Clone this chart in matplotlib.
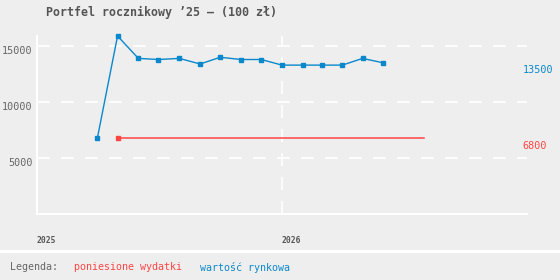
import numpy as np
import pandas as pd
import matplotlib
matplotlib.use("Agg")
import matplotlib.pyplot as plt
import matplotlib.dates as mdates
import matplotlib.transforms as mtransforms
from matplotlib.lines import Line2D

# data
value_dates = pd.date_range("2025-04-01", "2026-06-01", freq="MS")
market_value = [6800, 15900, 13900, 13800, 13900, 13400, 14000, 13800, 13800,
                13300, 13300, 13300, 13300, 13900, 13500]
cost_dates = pd.date_range("2025-05-01", "2026-08-01", freq="MS")
costs = [6800] * len(cost_dates)
y_ticks = [5000, 10000, 15000]
x_ticks = pd.to_datetime(["2025-01-01", "2026-01-01"])
x_tick_labels = ["2025", "2026"]

title = "Portfel rocznikowy ’25 – (100 zł)"
legend_label = "Legenda:"
cost_label = "poniesione wydatki"
value_label = "wartość rynkowa"

bg = "#eeeeee"
blue = "#0a88cc"
red = "#ff4444"
gray = "#666666"
mono = "DejaVu Sans Mono"

fig = plt.figure(figsize=(5.6, 2.8), dpi=100, facecolor=bg)
ax = fig.add_axes([37 / 560, 66 / 280, 490 / 560, 178 / 280], facecolor=bg)

ax.plot(value_dates, market_value, color=blue, lw=1.0, marker="s", ms=2.3,
        clip_on=False, zorder=3)
ax.plot(cost_dates, costs, color=red, lw=1.1, marker="s", ms=2.3,
        markevery=[0], clip_on=False, zorder=3)

ax.set_xlim(pd.Timestamp("2025-01-01"), pd.Timestamp("2027-01-01"))
ax.set_ylim(0, max(market_value))

# dashed white grid
dash = (0, (7.7, 6.7))
for v in y_ticks:
    ax.axhline(v, color="white", lw=1.2, ls=dash, zorder=1)
ax.axvline(x_ticks[1], color="white", lw=1.2, ls=dash, zorder=1)

for s in ["top", "right"]:
    ax.spines[s].set_visible(False)
for s in ["left", "bottom"]:
    ax.spines[s].set_color("white")
    ax.spines[s].set_linewidth(1.5)

ax.set_yticks(y_ticks)
ax.set_yticklabels([str(v) for v in y_ticks])
ax.tick_params(axis="y", length=0, pad=3, labelsize=7.3, labelcolor=gray)
offset = mtransforms.ScaledTranslation(0, -2.8 / 72, fig.dpi_scale_trans)
for lab in ax.get_yticklabels():
    lab.set_fontfamily(mono)
    lab.set_transform(lab.get_transform() + offset)

ax.set_xticks(x_ticks)
ax.set_xticklabels(x_tick_labels)
ax.tick_params(axis="x", length=0, pad=16, labelsize=5.8, labelcolor="#555555")
for lab in ax.get_xticklabels():
    lab.set_fontfamily(mono)
    lab.set_fontweight("bold")
    lab.set_horizontalalignment("left")

# last values on the right
ax.annotate(str(market_value[-1]), xy=(1, market_value[-1]),
            xycoords=("axes fraction", "data"), xytext=(-3, -5),
            textcoords="offset points", color=blue, fontsize=7.3,
            family=mono, ha="left", va="center", annotation_clip=False)
ax.annotate(str(costs[-1]), xy=(1, costs[-1]),
            xycoords=("axes fraction", "data"), xytext=(-3, -5.5),
            textcoords="offset points", color=red, fontsize=7.3,
            family=mono, ha="left", va="center", annotation_clip=False)

fig.text(46 / 560, 1 - 12 / 280, title, fontsize=8.4, fontweight="bold",
         color="#555555", family=mono, ha="left", va="center")

# legend band
fig.add_artist(Line2D([0, 1], [1 - 250.5 / 280] * 2, color="white", lw=2.2,
                      transform=fig.transFigure))
ly = 1 - 267.5 / 280
fig.text(10 / 560, ly, legend_label, fontsize=7.2, color=gray, family=mono,
         va="center")
fig.text(74 / 560, ly, cost_label, fontsize=7.2, color=red, family=mono,
         va="center")
fig.text(200 / 560, ly, value_label, fontsize=7.2, color=blue, family=mono,
         va="center")

fig.savefig("out.png", dpi=100, facecolor=bg)
